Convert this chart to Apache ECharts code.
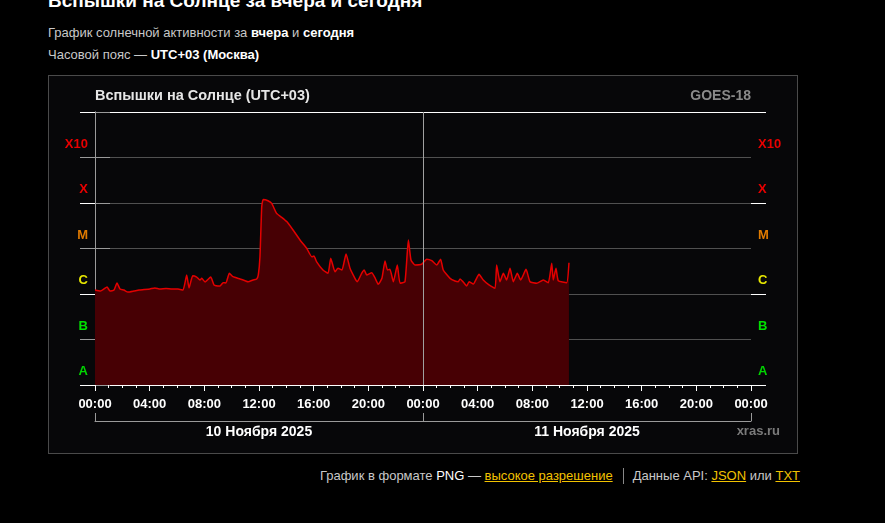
<!DOCTYPE html>
<html><head><meta charset="utf-8">
<script src="https://cdn.jsdelivr.net/npm/echarts@6/dist/echarts.min.js"></script>
<style>
html,body{margin:0;padding:0;background:#000;width:885px;height:523px;overflow:hidden;font-family:'Liberation Sans',Arial,sans-serif;}
.t{position:absolute;white-space:nowrap;}
#h1{left:48px;top:-9px;font-size:19px;font-weight:bold;color:#fff;line-height:19px;}
.sub{left:48px;font-size:13px;color:#c8c8c8;line-height:15px;}
.sub b{color:#fff;}
#chart{position:absolute;left:48px;top:75px;width:748px;height:377px;border:1px solid #4a4a4a;}
#foot{right:85px;top:468px;font-size:13px;color:#c8c8c8;line-height:16px;}
#foot a{color:#f2c200;text-decoration:underline;}
#foot .w{color:#fff;}
#foot .sep{display:inline-block;width:1px;height:16px;background:#888;vertical-align:-4px;margin:0 9px 0 10px;}
</style></head>
<body>
<div id="h1" class="t">Вспышки на Солнце за вчера и сегодня</div>
<div class="t sub" style="top:25px">График солнечной активности за <b>вчера</b> и <b>сегодня</b></div>
<div class="t sub" style="top:47px">Часовой пояс — <b>UTC+03 (Москва)</b></div>
<div id="chart"></div>
<div id="foot" class="t">График в формате <span class="w">PNG</span> — <a>высокое разрешение</a><span class="sep"></span>Данные API: <a>JSON</a> или <a>TXT</a></div>
<script>
// Flare classes (bands, bottom to top) and their colours
const classLabels = ['A', 'B', 'C', 'M', 'X', 'X10'];
const classColors = ['#00d400', '#00e000', '#e8e800', '#e07a00', '#e80000', '#e80000'];
const dayLabels = ['10 Ноября 2025', '11 Ноября 2025'];
const dayBoundary = [24];
// Time in hours since 10 Nov 00:00 (UTC+03)
const hours = [0, 0.40, 0.66, 0.88, 1.10, 1.39, 1.61, 1.83, 2.12, 2.41, 2.85, 3.22, 3.59, 4.02, 4.39, 4.76, 5.20, 5.63, 6.07, 6.44,
  6.71, 6.88, 7.15, 7.44, 7.68, 7.81, 8.05, 8.47, 8.71, 9.15, 9.37, 9.58, 9.83, 10.10, 10.61, 10.98, 11.20, 11.56, 11.83, 11.95,
  12.07, 12.20, 12.31, 12.66, 12.93, 13.29, 13.66, 14.03, 14.49, 15.00, 15.49, 15.86, 16.02, 16.22, 16.68, 17.05, 17.25, 17.56, 17.78, 18.07,
  18.37, 18.66, 19.02, 19.19, 19.51, 19.70, 19.88, 20.25, 20.49, 20.73, 21.00, 21.22, 21.40, 21.58, 21.83, 22.12, 22.32, 22.68, 22.93, 23.12,
  23.41, 23.90, 24.27, 24.64, 25.00, 25.29, 25.48, 25.98, 26.34, 26.58, 26.71, 26.93, 27.20, 27.37, 27.68, 28.10, 28.41, 28.83, 29.27, 29.39,
  29.63, 29.88, 30.12, 30.37, 30.61, 30.90, 31.15, 31.54, 31.83, 32.32, 32.80, 33.17, 33.42, 33.53, 33.73, 33.90, 34.51, 34.68];
// X-ray flux, W/m^2 (GOES-18)
const flux = [1.22e-6, 1.16e-6, 1.29e-6, 1.42e-6, 1.16e-6, 1.22e-6, 1.75e-6, 1.29e-6, 1.22e-6, 1.10e-6, 1.16e-6, 1.22e-6, 1.25e-6, 1.29e-6, 1.36e-6, 1.29e-6, 1.32e-6, 1.29e-6, 1.29e-6, 1.22e-6,
  2.62e-6, 1.36e-6, 2.52e-6, 2.36e-6, 2.03e-6, 2.21e-6, 1.84e-6, 2.36e-6, 1.58e-6, 1.50e-6, 1.77e-6, 1.75e-6, 2.85e-6, 2.40e-6, 2.14e-6, 1.96e-6, 1.86e-6, 2.03e-6, 2.14e-6, 2.62e-6,
  6.6e-6, 8.3e-5, 1.2e-4, 1.12e-4, 9.8e-5, 5.9e-5, 4.85e-5, 3.9e-5, 2.55e-5, 1.54e-5, 1.01e-5, 6.6e-6, 6.8e-6, 5.1e-6, 3.37e-6, 2.85e-6, 6.1e-6, 3.09e-6, 3.67e-6, 3.37e-6,
  7.6e-6, 3.67e-6, 2.21e-6, 1.86e-6, 2.85e-6, 3.37e-6, 2.62e-6, 2.94e-6, 2.25e-6, 1.63e-6, 2.25e-6, 5.3e-6, 3.37e-6, 3.49e-6, 1.86e-6, 4.34e-6, 1.72e-6, 1.86e-6, 1.54e-5, 5.6e-6,
  4.34e-6, 4.5e-6, 5.8e-6, 5.4e-6, 4.34e-6, 5.8e-6, 3.37e-6, 2.21e-6, 1.93e-6, 1.86e-6, 2.14e-6, 1.86e-6, 1.50e-6, 1.86e-6, 1.66e-6, 2.71e-6, 2.03e-6, 1.58e-6, 1.33e-6, 4.34e-6,
  1.86e-6, 2.85e-6, 2.03e-6, 3.67e-6, 1.86e-6, 2.85e-6, 2.03e-6, 3.49e-6, 1.86e-6, 1.72e-6, 2.03e-6, 1.77e-6, 4.73e-6, 2.03e-6, 3.67e-6, 1.96e-6, 1.77e-6, 4.87e-6];

const FONT = "'Liberation Sans', Arial, sans-serif";
const series = hours.map((h, i) => [h, flux[i]]);
const chart = echarts.init(document.getElementById('chart'), null, {renderer: 'canvas'});
const catAxis = (pos) => ({
  type: 'category', data: classLabels, position: pos, boundaryGap: true,
  axisLine: {show: false},
  axisTick: {show: true, length: 15, interval: (i) => i % 2 === 0, lineStyle: {color: '#ffffff', width: 1}},
  splitLine: {show: false},
  axisLabel: {
    margin: 7, fontFamily: FONT, fontWeight: 'bold', fontSize: 13, verticalAlign: 'top', lineHeight: 19,
    color: (v, i) => classColors[classLabels.indexOf(v)]
  }
});
const logAxis = (pos) => ({
  type: 'log', logBase: 10, min: 1e-8, max: 1e-2, splitNumber: 6, position: pos,
  axisLine: {show: true, lineStyle: {color: '#9a9a9a', width: 1}},
  axisTick: {show: true, length: 15, lineStyle: {color: '#9a9a9a'}},
  axisLabel: {show: false},
  splitLine: {show: pos === 'left', lineStyle: {color: '#505050', width: 1}}
});
chart.setOption({
  backgroundColor: '#070709',
  animation: false,
  textStyle: {fontFamily: FONT},
  title: [
    {text: 'Вспышки на Солнце (UTC+03)', left: 46, top: 12, padding: 0, textStyle: {color: '#e6e6e6', fontSize: 14.5, fontWeight: 'bold', fontFamily: FONT}},
    {text: 'GOES-18', right: 46, top: 13, padding: 0, textStyle: {color: '#8a8a8a', fontSize: 14, fontWeight: 'bold', fontFamily: FONT}},
    {text: 'xras.ru', right: 17, top: 349, padding: 0, textStyle: {color: '#7a7a7a', fontSize: 13, fontWeight: 'bold', fontFamily: FONT}}
  ],
  grid: {left: 46, right: 46, top: 36, bottom: 68, containLabel: false},
  xAxis: [
    {
      type: 'value', min: 0, max: 48, interval: 4, position: 'bottom',
      axisLine: {onZero: false, lineStyle: {color: '#ffffff', width: 1}},
      axisTick: {show: true, length: 6, lineStyle: {color: '#ffffff'}},
      minorTick: {show: true, splitNumber: 4, length: 3, lineStyle: {color: '#ffffff'}},
      splitLine: {show: false},
      axisLabel: {color: '#ffffff', fontWeight: 'bold', fontSize: 13, fontFamily: FONT, margin: 13,
        showMinLabel: true, showMaxLabel: true,
        formatter: (v) => String(v % 24).padStart(2, '0') + ':00'}
    },
    {
      type: 'category', data: dayLabels, position: 'bottom', offset: 36, boundaryGap: true,
      axisLine: {show: true, lineStyle: {color: '#9a9a9a', width: 1}},
      axisTick: {show: true, inside: true, length: 8, lineStyle: {color: '#9a9a9a'}},
      axisLabel: {color: '#ffffff', fontWeight: 'bold', fontSize: 14, fontFamily: FONT, margin: 4}
    },
    {
      type: 'value', min: 0, max: 48, position: 'top',
      axisLine: {show: true, onZero: false, lineStyle: {color: '#ffffff', width: 1}},
      axisTick: {show: false}, axisLabel: {show: false}, splitLine: {show: false}
    }
  ],
  yAxis: [logAxis('left'), logAxis('right'), catAxis('left'), catAxis('right')],
  series: [{
    type: 'line', xAxisIndex: 0, yAxisIndex: 0, data: series, showSymbol: false, smooth: 0.15,
    lineStyle: {color: '#e40000', width: 1.5},
    areaStyle: {color: '#470004', origin: 'start', opacity: 1},
    markLine: {
      silent: true, symbol: 'none', label: {show: false},
      lineStyle: {color: '#a0a0a0', type: 'solid', width: 1},
      data: dayBoundary.map(v => ({xAxis: v}))
    }
  }]
});
</script>
</body></html>
